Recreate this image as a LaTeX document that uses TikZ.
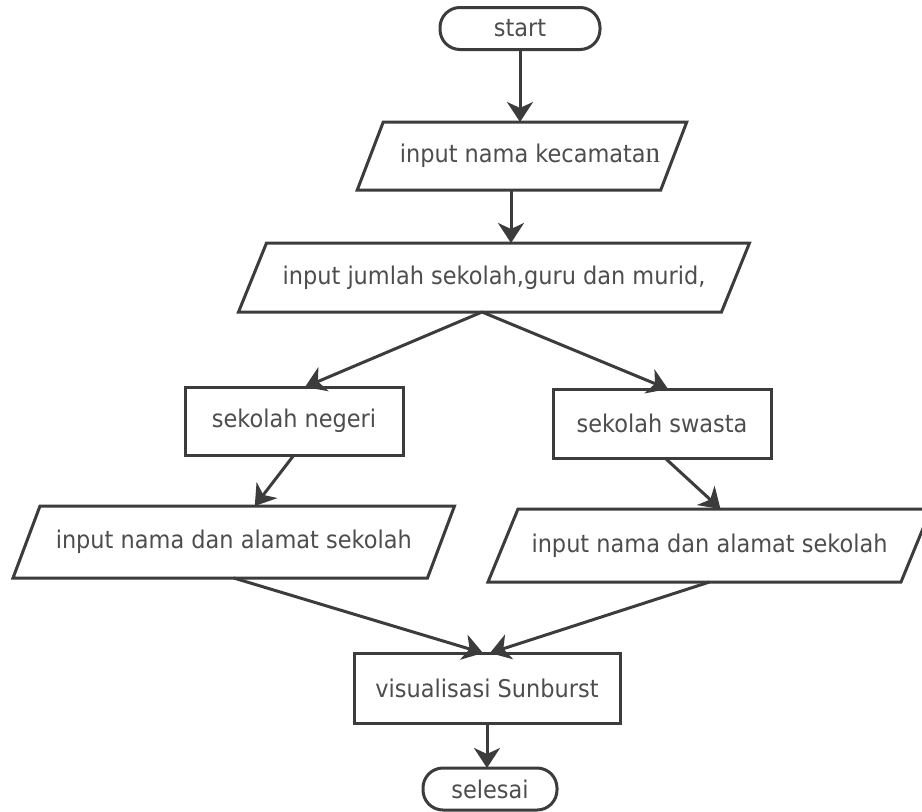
\documentclass[tikz,border=0pt]{standalone}
\usepackage{fontspec}
\setmainfont[FakeStretch=0.92]{DejaVu Sans}
\newfontfamily\serifn{Liberation Serif}
\usetikzlibrary{arrows.meta,calc}
\definecolor{linec}{HTML}{3C3C3C}
\definecolor{textc}{HTML}{4D4D4D}
% parallelogram (input/output) drawn around a plain node; #2 = half slant
\newcommand\iopath[2]{%
  \draw[linec, line width=3pt, line join=miter]
    ($(#1.north west)+(#2,0)$) -- ($(#1.north east)+(#2,0)$) --
    ($(#1.south east)-(#2,0)$) -- ($(#1.south west)-(#2,0)$) -- cycle;}
\begin{document}
\begin{tikzpicture}[x=1pt,y=-1pt,
  every node/.style={inner sep=0pt, outer sep=0pt, text=textc,
    font=\fontsize{24.4}{28}\selectfont},
  term/.style={draw=linec, line width=3pt, rectangle, rounded corners=20pt},
  procbox/.style={draw=linec, line width=3pt, rectangle},
  iobox/.style={rectangle},
  flow/.style={draw=linec, line width=3pt,
    -{Stealth[length=20pt,width=26pt,inset=6pt]}}]
\useasboundingbox (0,0) rectangle (922,812);
\fill[white] (0,0) rectangle (922,812);

% nodes
\node[term, minimum width=160pt, minimum height=42pt] (start) at (520,28.5) {start};
\node[iobox, minimum width=303.5pt, minimum height=68pt] (kec) at (522,156)
  {\hspace*{16pt}input nama kecamata{\serifn\fontsize{29}{28}\selectfont n}};
\node[iobox, minimum width=483pt, minimum height=69pt] (jumlah) at (494,277.5)
  {input jumlah sekolah,guru dan murid,};
\node[procbox, minimum width=218pt, minimum height=68pt] (negeri) at (294,421)
  {sekolah negeri};
\node[procbox, minimum width=218pt, minimum height=69pt] (swasta) at (662,423.5)
  {sekolah swasta};
\node[iobox, minimum width=414.5pt, minimum height=72pt] (leftin) at (233.75,542)
  {input nama dan alamat sekolah};
\node[iobox, minimum width=413pt, minimum height=73pt] (rightin) at (709.5,545.5)
  {input nama dan alamat sekolah};
\node[procbox, minimum width=266pt, minimum height=70pt] (vis) at (487,688)
  {visualisasi Sunburst};
\node[term, minimum width=134pt, minimum height=42pt] (selesai) at (490,789) {selesai};

% parallelogram outlines
\iopath{kec}{13}
\iopath{jumlah}{14}
\iopath{leftin}{13.5}
\iopath{rightin}{15}

% connectors
\coordinate (kecout) at ([xshift=-11pt]kec.south);
\coordinate (jout) at ([xshift=-12pt]jumlah.south);
\draw[flow] (start.south) -- (start.south |- kec.north);
\draw[flow] (kecout) -- (kecout |- jumlah.north);
\draw[flow] (jout) -- ([xshift=11pt]negeri.north);
\draw[flow] (jout) -- ([xshift=6pt]swasta.north);
\draw[flow] (negeri.south) -- ([xshift=21pt]leftin.north);
\draw[flow] ([xshift=3pt]swasta.south) -- ([xshift=11pt]rightin.north);
\draw[flow] (leftin.south) -- ([xshift=-4pt]vis.north);
\draw[flow] (rightin.south) -- ([xshift=3pt]vis.north);
\draw[flow] (vis.south) -- (vis.south |- selesai.north);
\end{tikzpicture}
\end{document}
